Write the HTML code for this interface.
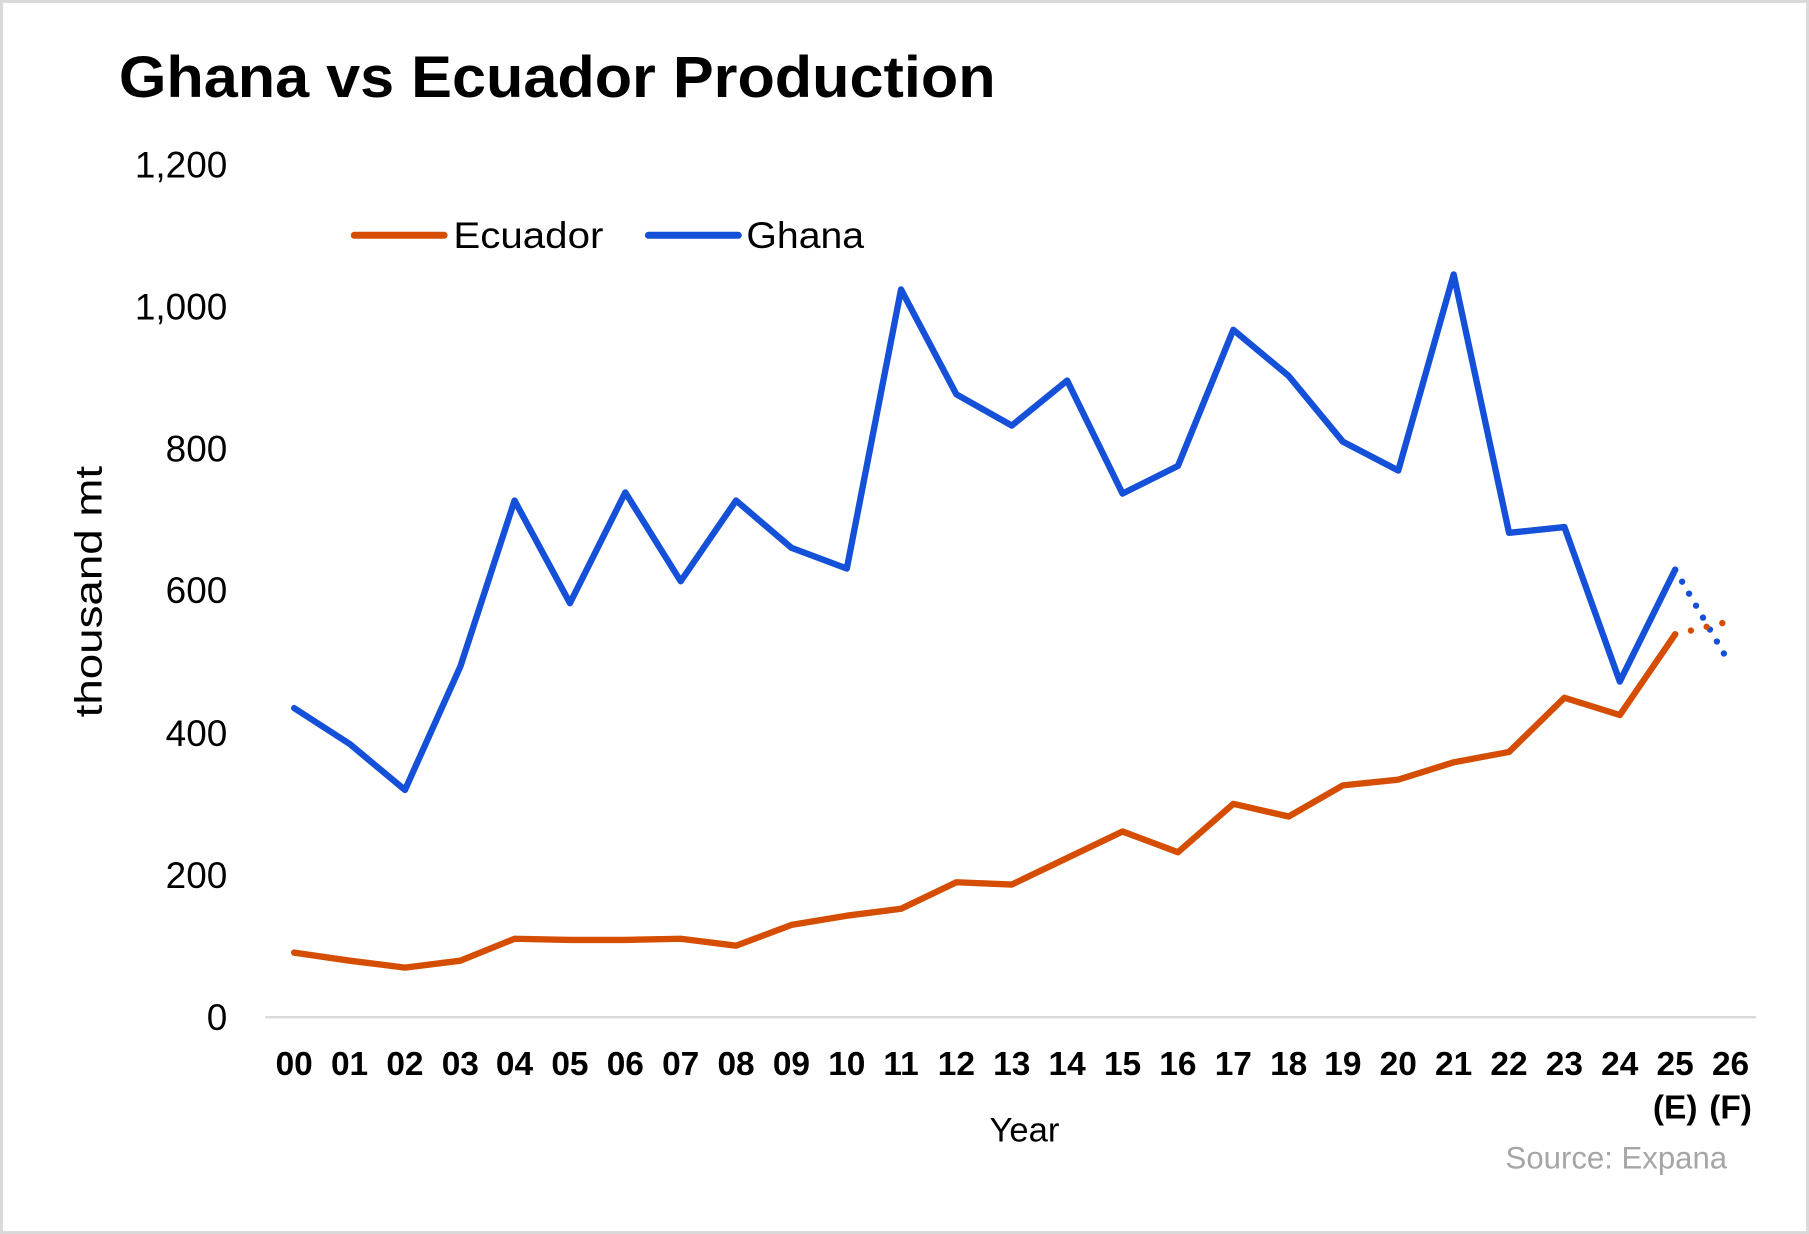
<!DOCTYPE html>
<html><head><meta charset="utf-8"><style>
html,body{margin:0;padding:0;background:#fff;}
svg{display:block;}
text{font-family:"Liberation Sans",sans-serif;}
</style></head><body>
<svg width="1809" height="1234" viewBox="0 0 1568 1070" preserveAspectRatio="none" xmlns="http://www.w3.org/2000/svg">
<rect x="1" y="1" width="1566" height="1068" fill="#fff" stroke="#d9d9d9" stroke-width="3"/>
<text x="103" y="84" font-size="51" font-weight="bold" fill="#000" textLength="760" lengthAdjust="spacingAndGlyphs">Ghana vs Ecuador Production</text>
<g font-size="32" fill="#000" text-anchor="end">
<text x="197" y="154">1,200</text>
<text x="197" y="277">1,000</text>
<text x="197" y="400">800</text>
<text x="197" y="523">600</text>
<text x="197" y="647">400</text>
<text x="197" y="770">200</text>
<text x="197" y="893">0</text>
</g>
<text transform="translate(88,513) rotate(-90)" font-size="33" text-anchor="middle" fill="#000" textLength="218" lengthAdjust="spacingAndGlyphs">thousand mt</text>
<line x1="230" y1="882" x2="1522" y2="882" stroke="#d9d9d9" stroke-width="2"/>
<line x1="307" y1="204" x2="385" y2="204" stroke="#d54d00" stroke-width="6" stroke-linecap="round"/>
<text x="393" y="215" font-size="32" fill="#000" textLength="130" lengthAdjust="spacingAndGlyphs">Ecuador</text>
<line x1="562" y1="204" x2="640" y2="204" stroke="#1450d8" stroke-width="6" stroke-linecap="round"/>
<text x="647" y="215" font-size="32" fill="#000" textLength="102" lengthAdjust="spacingAndGlyphs">Ghana</text>
<polyline fill="none" stroke="#1450d8" stroke-width="5.5" stroke-linejoin="round" stroke-linecap="round" points="255,614 303,645 351,685 399,578 446,434 494,523 542,427 590,504 638,434 686,475 734,493 781,251 829,342 877,369 925,330 973,428 1021,404 1069,286 1117,326 1164,383 1212,408 1260,238 1308,462 1356,457 1404,591 1452,494"/>
<polyline fill="none" stroke="#d54d00" stroke-width="5.5" stroke-linejoin="round" stroke-linecap="round" points="255,826 303,833 351,839 399,833 446,814 494,815 542,815 590,814 638,820 686,802 734,794 781,788 829,765 877,767 925,744 973,721 1021,739 1069,697 1117,708 1164,681 1212,676 1260,661 1308,652 1356,605 1404,620 1452,550"/>
<line x1="1452" y1="494" x2="1495" y2="568" stroke="#1450d8" stroke-width="5.5" stroke-linecap="round" stroke-dasharray="0 12"/>
<line x1="1452" y1="550" x2="1494" y2="540" stroke="#d54d00" stroke-width="5.5" stroke-linecap="round" stroke-dasharray="0 14"/>
<g font-size="29" font-weight="bold" fill="#000" text-anchor="middle">
<text x="255" y="932">00</text><text x="303" y="932">01</text><text x="351" y="932">02</text><text x="399" y="932">03</text><text x="446" y="932">04</text><text x="494" y="932">05</text><text x="542" y="932">06</text><text x="590" y="932">07</text><text x="638" y="932">08</text><text x="686" y="932">09</text><text x="734" y="932">10</text><text x="781" y="932">11</text><text x="829" y="932">12</text><text x="877" y="932">13</text><text x="925" y="932">14</text><text x="973" y="932">15</text><text x="1021" y="932">16</text><text x="1069" y="932">17</text><text x="1117" y="932">18</text><text x="1164" y="932">19</text><text x="1212" y="932">20</text><text x="1260" y="932">21</text><text x="1308" y="932">22</text><text x="1356" y="932">23</text><text x="1404" y="932">24</text><text x="1452" y="932">25</text><text x="1500" y="932">26</text>
<text x="1452" y="970">(E)</text><text x="1500" y="970">(F)</text>
</g>
<text x="888" y="990" font-size="30" text-anchor="middle" fill="#000">Year</text>
<text x="1497" y="1013" font-size="27" text-anchor="end" fill="#a6a6a6">Source: Expana</text>
</svg>
</body></html>
